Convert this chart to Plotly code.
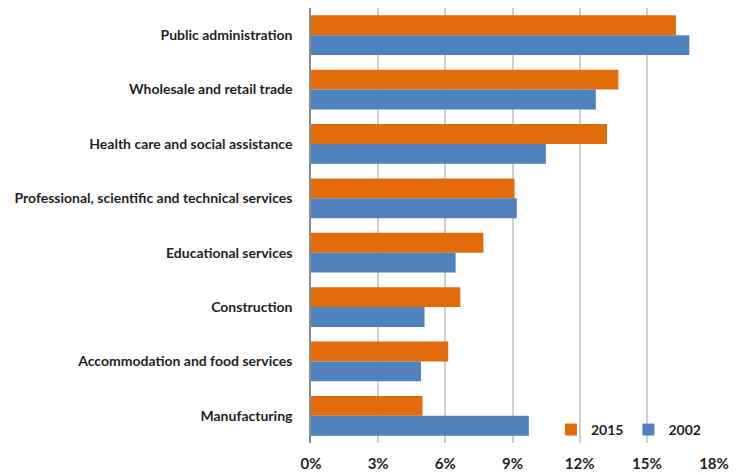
import plotly.graph_objects as go

# Share of employment by industry, 2015 vs 2002 (percent)
industries = [
    "Public administration",
    "Wholesale and retail trade",
    "Health care and social assistance",
    "Professional, scientific and technical services",
    "Educational services",
    "Construction",
    "Accommodation and food services",
    "Manufacturing",
]
share_2015 = [16.3, 13.73, 13.22, 9.09, 7.70, 6.67, 6.13, 4.98]
share_2002 = [16.9, 12.72, 10.49, 9.19, 6.46, 5.07, 4.91, 9.73]
tick_values = [0, 3, 6, 9, 12, 15, 18]
tick_labels = ["0%", "3%", "6%", "9%", "12%", "15%", "18%"]

ORANGE = "#E36C0A"
BLUE = "#4F81BD"
TEXT = "#1F1F1F"
FONT = "Lato"

fig = go.Figure()
fig.add_trace(go.Bar(
    y=industries, x=share_2015, name="2015", orientation="h",
    marker=dict(color=ORANGE, line=dict(width=0)),
))
fig.add_trace(go.Bar(
    y=industries, x=share_2002, name="2002", orientation="h",
    marker=dict(color=BLUE, line=dict(width=0)),
))

fig.update_layout(
    width=746, height=474,
    margin=dict(l=311, r=32, t=8, b=31),
    paper_bgcolor="white", plot_bgcolor="white",
    barmode="group", bargap=0.27, bargroupgap=0,
    font=dict(family=FONT, size=14, color=TEXT),
    legend=dict(
        orientation="h", x=0.98, xanchor="right", y=0.03, yanchor="middle",
        font=dict(family=FONT, size=14, color=TEXT, weight="bold"),
        bgcolor="rgba(0,0,0,0)", itemwidth=30, traceorder="normal",
    ),
    xaxis=dict(
        range=[0, 18], tickvals=tick_values, ticktext=tick_labels,
        showgrid=True, gridcolor="#D0D0D0", gridwidth=2,
        zeroline=False, showline=False, ticks="",
        tickfont=dict(family=FONT, size=15, color=TEXT, weight="bold"),
        ticklabelstandoff=10, automargin=False,
    ),
    yaxis=dict(
        categoryorder="array", categoryarray=industries, autorange="reversed",
        showline=True, linecolor="#8C8C8C", linewidth=1.5,
        showgrid=False, ticks="",
        tickfont=dict(family=FONT, size=14, color=TEXT, weight="bold"),
        ticklabelstandoff=14, automargin=False,
    ),
)

fig.write_html("out.html")
